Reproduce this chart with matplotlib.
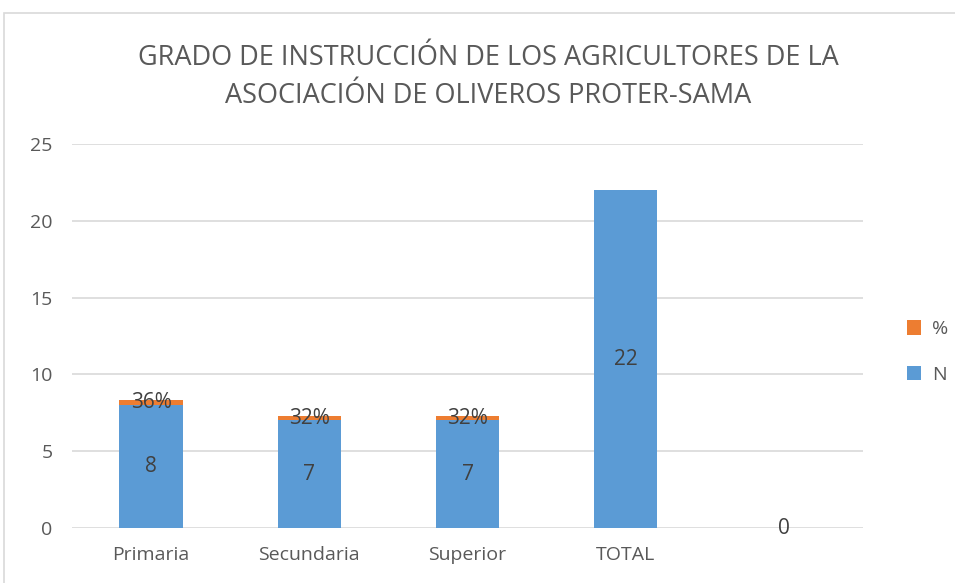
import matplotlib.pyplot as plt
import numpy as np
from matplotlib.patches import Rectangle

categories = ["Primaria", "Secundaria", "Superior", "TOTAL", ""]
n_values = [8, 7, 7, 22, 0]
pct_values = [0.36, 0.32, 0.32, np.nan, np.nan]
pct_labels = ["36%", "32%", "32%", "", ""]

BLUE = "#5b9bd5"
ORANGE = "#ed7d31"
GREY = "#595959"
DARK = "#404040"

plt.rcParams["font.family"] = ["Open Sans", "DejaVu Sans"]

W, H = 955, 583
fig = plt.figure(figsize=(W / 100, H / 100), dpi=100)
ax = fig.add_axes([72 / W, 1 - 528 / H, (863 - 72) / W, (528 - 144) / H])

# chart border
fig.patches.append(Rectangle((4 / W, -0.05), 1.05, 1 - 13 / H + 0.05,
                             transform=fig.transFigure, fill=False,
                             edgecolor="#d9d9d9", linewidth=1.2))

x = np.arange(len(categories))
width = 0.4
n_arr = np.array(n_values, dtype=float)
pct_arr = np.nan_to_num(np.array(pct_values, dtype=float))

ax.bar(x, n_arr, width, color=BLUE, label="N", zorder=3)
ax.bar(x, pct_arr, width, bottom=n_arr, color=ORANGE, label="%", zorder=3)

for i in range(len(categories)):
    ax.text(x[i], n_arr[i] / 2, f"{n_values[i]:g}", ha="center", va="center",
            fontsize=15, color=DARK, zorder=4)
    if pct_labels[i]:
        ax.text(x[i], n_arr[i] + pct_arr[i] / 2, pct_labels[i], ha="center",
                va="center", fontsize=15, color=DARK, zorder=4)

ax.set_xlim(-0.5, len(categories) - 0.5)
ax.set_ylim(0, 25)
ax.set_yticks([0, 5, 10, 15, 20, 25])
ax.set_xticks(x)
ax.set_xticklabels(categories)
ax.tick_params(axis="both", length=0, labelsize=14, colors=GREY)
ax.tick_params(axis="x", pad=13)
ax.tick_params(axis="y", pad=14)
ax.grid(axis="y", color="#d9d9d9", linewidth=1.2, zorder=0)
for s in ax.spines.values():
    s.set_visible(False)

fig.text(488 / W, 1 - 77 / H,
         "GRADO DE INSTRUCCIÓN DE LOS AGRICULTORES DE LA\nASOCIACIÓN DE OLIVEROS PROTER-SAMA",
         ha="center", va="center", fontsize=19.5, color=GREY, linespacing=1.45)

handles, labels = ax.get_legend_handles_labels()
fig.legend(handles[::-1], labels[::-1], loc="center left",
           bbox_to_anchor=(889 / W, 1 - 352 / H), frameon=False,
           fontsize=14, labelcolor=GREY, handlelength=0.75, handleheight=0.75,
           labelspacing=1.4, handletextpad=0.55)

fig.savefig("out.png", dpi=100)
